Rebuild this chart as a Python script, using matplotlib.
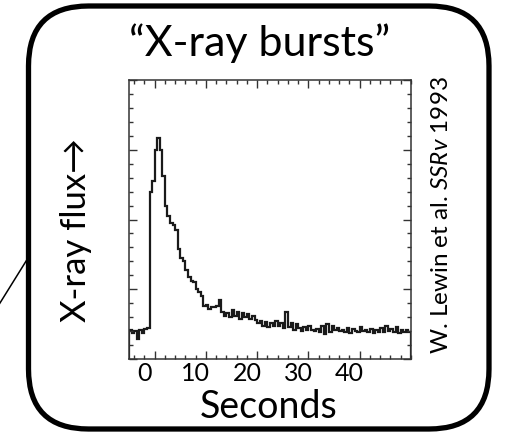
import matplotlib
matplotlib.use("Agg")
import matplotlib.pyplot as plt
from matplotlib.patches import FancyBboxPatch
from matplotlib.lines import Line2D
from matplotlib.ticker import MultipleLocator
import matplotlib.transforms as mtransforms
import numpy as np

plt.rcParams['font.family'] = ['Lato', 'DejaVu Sans']
plt.rcParams['mathtext.fontset'] = 'custom'
plt.rcParams['mathtext.rm'] = 'Lato'
plt.rcParams['mathtext.it'] = 'Lato:italic'

# burst light curve, 0.5 s bins starting at t = -5 s
bin_start = -5.0
bin_width = 0.5
flux = [
    0.42, 0.37, 0.40, 0.28, 0.41, 0.37, 0.43, 0.45,
    2.40, 2.55, 3.00, 3.17, 3.00, 2.62, 2.20, 2.05,
    1.95, 1.92, 1.85, 1.58, 1.45, 1.40, 1.27, 1.18,
    1.12, 1.10, 1.00, 0.96, 0.90, 0.76, 0.78, 0.72,
    0.75, 0.74, 0.76, 0.84, 0.68, 0.62, 0.66, 0.60,
    0.70, 0.62, 0.68, 0.58, 0.66, 0.60, 0.65, 0.57,
    0.62, 0.56, 0.52, 0.55, 0.48, 0.53, 0.46, 0.52,
    0.47, 0.55, 0.48, 0.52, 0.45, 0.68, 0.46, 0.52,
    0.42, 0.50, 0.44, 0.40, 0.46, 0.42, 0.48, 0.42,
    0.40, 0.43, 0.38, 0.48, 0.36, 0.50, 0.38, 0.47,
    0.42, 0.44, 0.40, 0.41, 0.38, 0.44, 0.37, 0.43,
    0.40, 0.38, 0.46, 0.40, 0.42, 0.38, 0.43, 0.37,
    0.41, 0.39, 0.44, 0.38, 0.47, 0.40, 0.43, 0.38,
    0.46, 0.37, 0.41, 0.38, 0.42, 0.39,
]
tick_values = [0, 10, 20, 30, 40]
tick_labels = ["0", "10", "20", "30", "40"]

fig = plt.figure(figsize=(5.12, 4.32), dpi=100)
ax = fig.add_axes([129 / 512, 1 - 359 / 432, 282 / 512, 279 / 432])

edges = bin_start + bin_width * np.arange(len(flux) + 1)
ax.stairs(flux, edges, color='#1a1a1a', lw=1.6)

ax.set_xlim(-5, 50)
ax.set_ylim(0, 4)
ax.xaxis.set_major_locator(MultipleLocator(10))
ax.xaxis.set_minor_locator(MultipleLocator(2))
ax.yaxis.set_major_locator(MultipleLocator(1))
ax.yaxis.set_minor_locator(MultipleLocator(0.2))
ax.tick_params(which='both', direction='in', top=True, right=True,
               width=1.0, color='#333333')
ax.tick_params(which='major', length=6)
ax.tick_params(which='minor', length=3)
ax.tick_params(axis='y', labelleft=False)
ax.set_xticks(tick_values, tick_labels)
ax.tick_params(axis='x', labelsize=18, pad=2)
shift = mtransforms.ScaledTranslation(-0.10, 0, fig.dpi_scale_trans)
for lbl in ax.get_xticklabels():
    lbl.set_transform(lbl.get_transform() + shift)
for sp in ax.spines.values():
    sp.set_linewidth(1.1)
    sp.set_color('#333333')

fig.text(260 / 512, 1 - 56 / 432, "\u201cX-ray bursts\u201d", ha='center',
         va='baseline', fontsize=31)
fig.text(269 / 512, 1 - 418 / 432, "Seconds", ha='center', va='baseline',
         fontsize=27)
fig.text(76 / 512, 1 - 230 / 432, "X-ray flux\u2192", rotation=90,
         ha='center', va='center', fontsize=25)
fig.text(441 / 512, 1 - 215 / 432, r"W. Lewin et al. $\mathit{SSRv}$ 1993",
         rotation=90, ha='center', va='center', fontsize=17.5)

box = FancyBboxPatch((0.285, 0.03), 4.605, 4.23,
                     boxstyle="round,pad=0,rounding_size=0.6",
                     transform=fig.dpi_scale_trans, lw=3.8,
                     ec='black', fc='none')
fig.add_artist(box)
fig.add_artist(Line2D([-0.05, 0.28], [1.21, 1.74], color='black', lw=1.1,
                      transform=fig.dpi_scale_trans))

fig.savefig("out.png", dpi=100)
